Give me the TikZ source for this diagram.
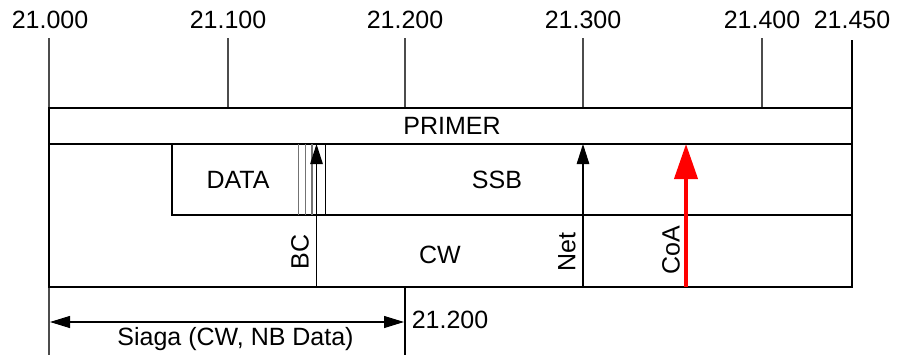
\documentclass[tikz,border=0pt]{standalone}
\usepackage{fontspec}
\setmainfont{Liberation Sans}
\usetikzlibrary{arrows.meta}
\begin{document}
\begin{tikzpicture}[x=1pt,y=-1pt,
  lbl/.style={font=\fontsize{25}{28}\selectfont, inner sep=0pt},
  ln/.style={line width=1.1pt, draw=black},
  tick/.style={line width=1.1pt, draw=black!70},
  thin gray/.style={line width=1.2pt, draw=black!55},
  blackarrow/.style={line width=1.1pt, -{Triangle[length=20pt,width=12.5pt]}},
  redarrow/.style={line width=4pt, draw=red, -{Triangle[length=35pt,width=23pt]}, fill=red},
  dimarrow/.style={line width=1.1pt, {Triangle[length=20pt,width=12pt]}-{Triangle[length=20pt,width=12pt]}}]
\useasboundingbox (0,0) rectangle (897,356);

% scale coordinates
\coordinate (t0) at (49,38);   \coordinate (b0) at (49,355);
\coordinate (t1) at (228,38);  \coordinate (m1) at (228,108);
\coordinate (t2) at (405,38);  \coordinate (m2) at (405,108);
\coordinate (t3) at (583,38);  \coordinate (m3) at (583,108);
\coordinate (t4) at (762,38);  \coordinate (m4) at (762,108);
\coordinate (t5) at (852,40);  \coordinate (m5) at (852,108);
\coordinate (u2) at (405,287); \coordinate (d2) at (405,355);

% scale labels
\node[lbl] (l0) at (50,20)  {21.000};
\node[lbl] (l1) at (228,20) {21.100};
\node[lbl] (l2) at (405,20) {21.200};
\node[lbl] (l3) at (583,20) {21.300};
\node[lbl] (l4) at (762,20) {21.400};
\node[lbl] (l5) at (852,20) {21.450};

% ticks
\draw[tick] (t0) -- (b0);
\draw[tick] (t1) -- (m1);
\draw[tick] (t2) -- (m2);
\draw[tick] (t3) -- (m3);
\draw[tick] (t4) -- (m4);
\draw[ln] (t5) -- (m5);
\draw[ln] (u2) -- (d2);

% PRIMER row
\draw[ln] (49,108) rectangle (852,144);
\node[lbl] (primer) at (452,126) {PRIMER};

% rows 2 and 3
\draw[ln] (49,144) rectangle (852,287);
\coordinate (dtl) at (172,144); \coordinate (dbl) at (172,215);
\coordinate (rbr) at (852,215);
\draw[ln] (dtl) -- (dbl) -- (rbr);
\node[lbl] (data) at (238,180) {DATA};
\node[lbl] (ssb) at (497,180) {SSB};
\node[lbl] (cw) at (440,255) {CW};

% data sub-lines
\draw[thin gray] (298.7,144) -- (298.7,215);
\draw[thin gray] (305.7,144) -- (305.7,215);
\draw[thin gray] (312,144) -- (312,215);
\draw[ln] (325.5,144) -- (325.5,215);

% arrows
\coordinate (bcb) at (316.5,287); \coordinate (bct) at (316.5,144);
\coordinate (netb) at (583,287); \coordinate (nett) at (583,144);
\coordinate (coab) at (686,287); \coordinate (coat) at (686,144);
\draw[blackarrow] (bcb) -- (bct);
\draw[blackarrow] (netb) -- (nett);
\draw[redarrow] (coab) -- (coat);

\node[lbl, rotate=90] (bc) at (300,252) {BC};
\node[lbl, rotate=90] (net) at (567,252) {Net};
\node[lbl, rotate=90] (coa) at (671,250) {CoA};

% bottom dimension
\coordinate (dl) at (50,322); \coordinate (dr) at (404,322);
\draw[dimarrow] (dl) -- (dr);
\node[lbl] (siaga) at (235.5,339) {Siaga (CW, NB Data)};
\node[lbl] (l2b) at (450,320) {21.200};
\end{tikzpicture}
\end{document}
